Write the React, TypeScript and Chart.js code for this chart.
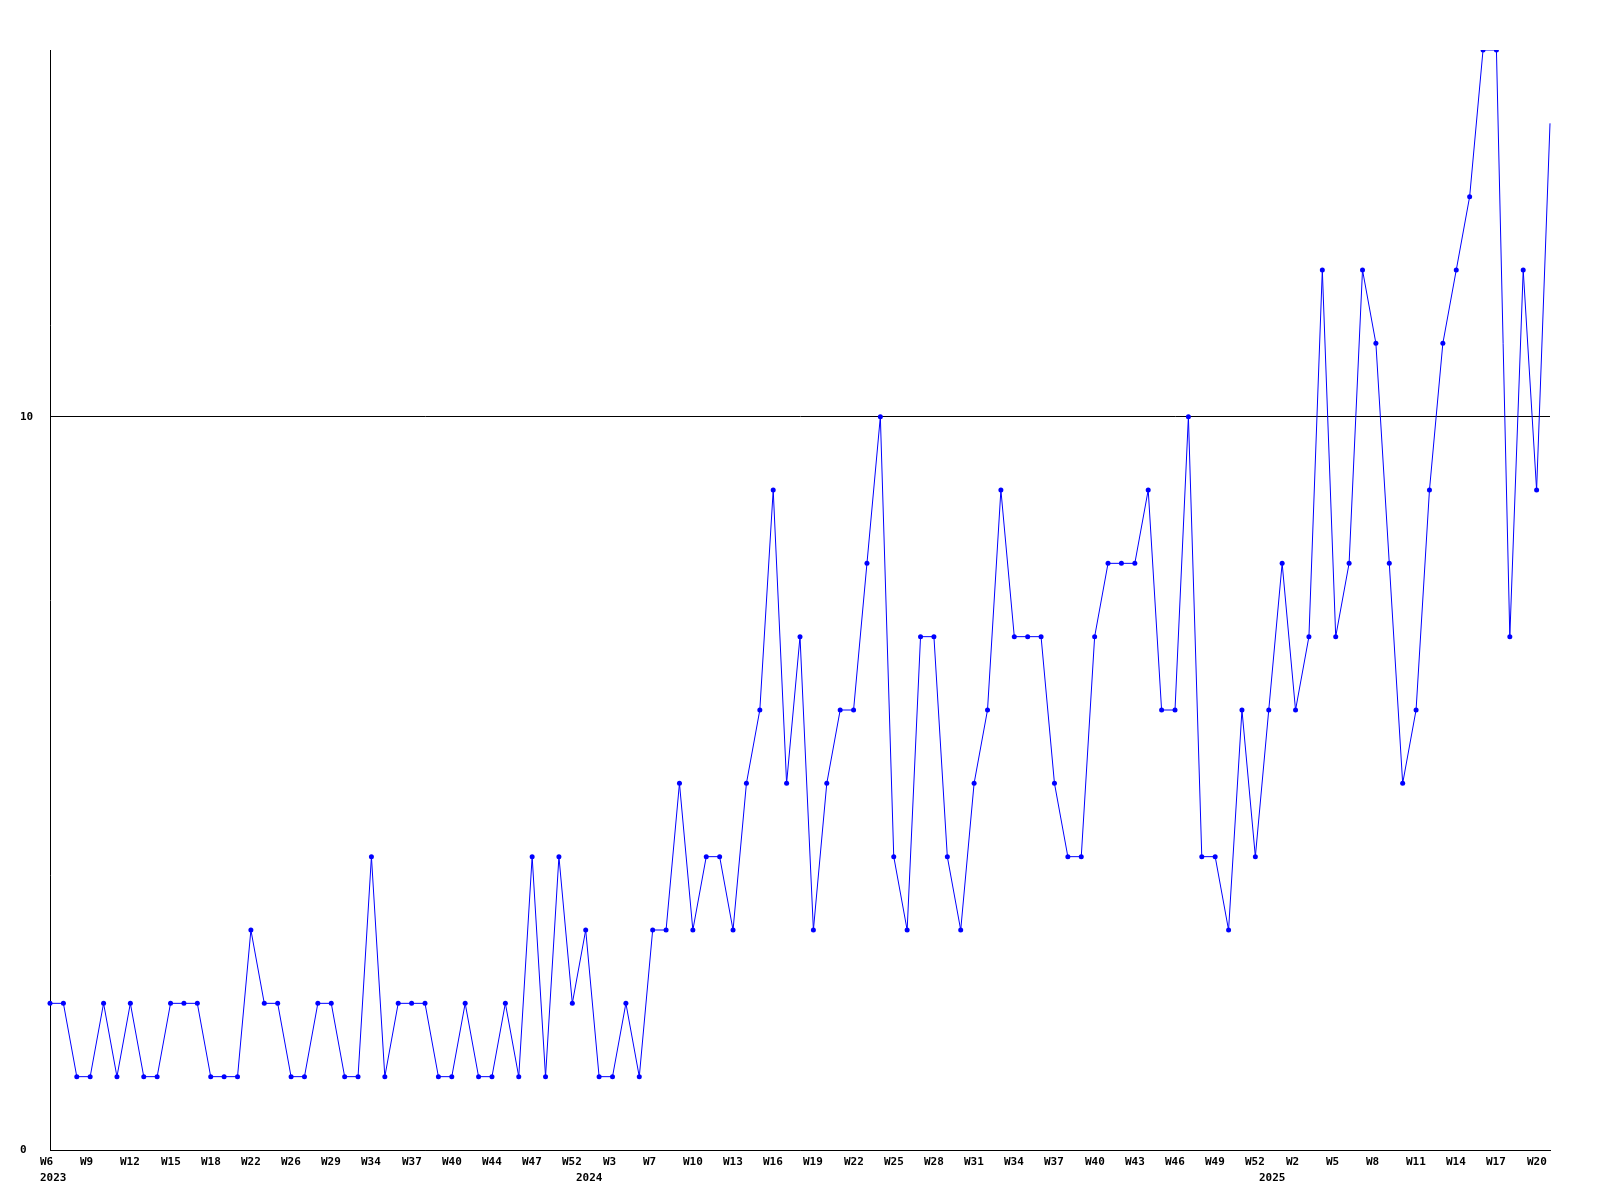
import React, { useEffect, useRef } from "react";
import { Chart, registerables } from "chart.js";

Chart.register(...registerables);

// Weekly values (one per week, 113 weeks)
const values: number[] = [
  2, 2, 1, 1, 2, 1, 2, 1, 1, 2, 2, 2, 1, 1, 1,
  3, 2, 2, 1, 1, 2, 2, 1, 1, 4, 1, 2, 2, 2, 1,
  1, 2, 1, 1, 2, 1, 4, 1, 4, 2, 3, 1, 1, 2, 1,
  3, 3, 5, 3, 4, 4, 3, 5, 6, 9, 5, 7, 3, 5, 6,
  6, 8, 10, 4, 3, 7, 7, 4, 3, 5, 6, 9, 7, 7, 7,
  5, 4, 4, 7, 8, 8, 8, 9, 6, 6, 10, 4, 4, 3, 6,
  4, 6, 8, 6, 7, 12, 7, 8, 12, 11, 8, 5, 6, 9, 11,
  12, 13, 15, 15, 7, 12, 9, 14,
];

// Tick labels, one for every third week
const weekLabels: string[] = [
  "W6", "W9", "W12", "W15", "W18", "W22", "W26", "W29", "W34", "W37",
  "W40", "W44", "W47", "W52", "W3", "W7", "W10", "W13", "W16", "W19",
  "W22", "W25", "W28", "W31", "W34", "W37", "W40", "W43", "W46", "W49",
  "W52", "W2", "W5", "W8", "W11", "W14", "W17", "W20",
];

const yearLabels: string[] = ["2023", "2024", "2025"];
const yearStartIndex: number[] = [0, 40, 91];

const yTicks: number[] = [0, 10];
const Y_MIN = 0;
const Y_MAX = 15;
const LABEL_EVERY = 3;

const FONT = 'bold 11px "DejaVu Sans Mono", "Liberation Mono", monospace';

export default function App() {
  const ref = useRef<HTMLCanvasElement | null>(null);

  useEffect(() => {
    if (!ref.current) return;
    const categories = values.map((_, i) =>
      i % LABEL_EVERY === 0 ? weekLabels[i / LABEL_EVERY] ?? "" : ""
    );

    const labelPlugin = {
      id: "xLabels",
      afterDraw(chart: any) {
        const ctx = chart.ctx as CanvasRenderingContext2D;
        const xs = chart.scales.x;
        ctx.save();
        ctx.font = FONT;
        ctx.fillStyle = "#000000";
        ctx.textAlign = "left";
        ctx.textBaseline = "alphabetic";
        weekLabels.forEach((t, k) => {
          const x = Math.round(xs.getPixelForValue(k * LABEL_EVERY)) - 10;
          ctx.fillText(t, x, Math.round(xs.top) + 15);
        });
        yearLabels.forEach((t, k) => {
          const x = Math.round(xs.getPixelForValue(yearStartIndex[k])) - 10;
          ctx.fillText(t, x, Math.round(xs.top) + 31);
        });
        ctx.restore();
      },
    };

    const lastIndex = values.length - 1;

    const chart = new Chart(ref.current, {
      type: "line",
      data: {
        labels: categories,
        datasets: [
          {
            data: values,
            borderColor: "#0000ff",
            backgroundColor: "#0000ff",
            borderWidth: 1,
            tension: 0,
            fill: false,
            pointRadius: (c: any) => (c.dataIndex === lastIndex ? 0 : 2.5),
            pointStyle: "circle",
            pointBackgroundColor: "#0000ff",
            pointBorderColor: "#0000ff",
            pointBorderWidth: 0,
          },
        ],
      },
      options: {
        animation: false,
        responsive: false,
        maintainAspectRatio: false,
        layout: { padding: { left: 20, top: 50, right: 50, bottom: 0 } },
        plugins: {
          legend: { display: false },
          tooltip: { enabled: false },
        },
        scales: {
          x: {
            type: "category",
            offset: false,
            grid: { display: false, drawTicks: false },
            border: { display: true, color: "#000000", width: 1 },
            ticks: { display: false, autoSkip: false },
            afterFit: (s: any) => {
              s.height = 50;
            },
          },
          y: {
            min: Y_MIN,
            max: Y_MAX,
            grid: { color: "#000000", lineWidth: 1, drawTicks: false },
            border: { display: true, color: "#000000", width: 1 },
            ticks: {
              color: "#000000",
              font: { family: '"DejaVu Sans Mono", "Liberation Mono", monospace', size: 11, weight: "bold" },
              crossAlign: "far",
              padding: 0,
            },
            afterBuildTicks: (s: any) => {
              s.ticks = yTicks.map((v) => ({ value: v }));
            },
            afterFit: (s: any) => {
              s.width = 30;
            },
          },
        },
      },
      plugins: [labelPlugin],
    } as any);

    return () => chart.destroy();
  }, []);

  return (
    <div
      style={{
        position: "absolute",
        left: 0,
        top: 0,
        width: 1600,
        height: 1200,
        background: "#ffffff",
      }}
    >
      <canvas ref={ref} width={1600} height={1200} style={{ display: "block" }} />
    </div>
  );
}
